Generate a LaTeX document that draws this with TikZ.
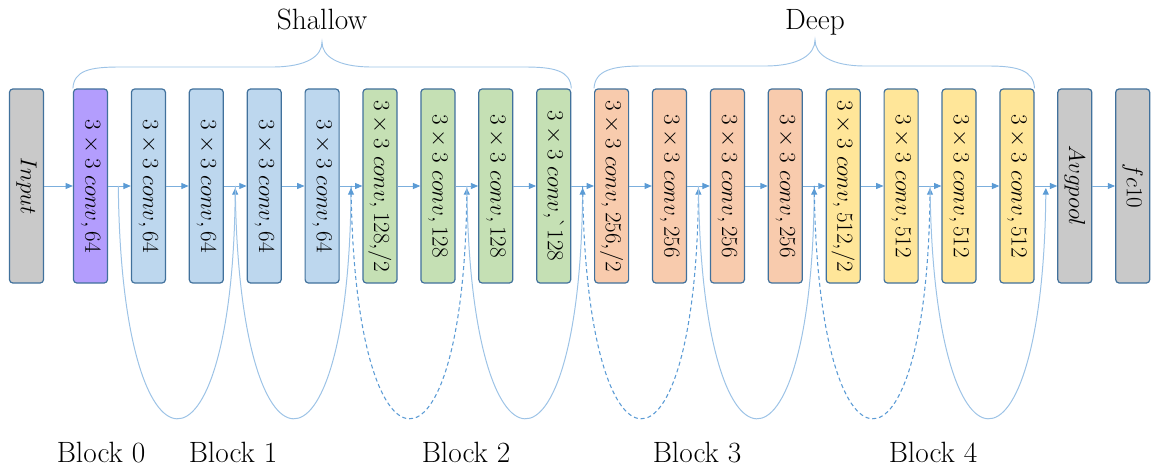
\documentclass[tikz,border=0pt]{standalone}
\usetikzlibrary{calc,arrows.meta}
\definecolor{bord}{HTML}{41719C}
\definecolor{arr}{HTML}{5B9BD5}
\definecolor{lightarr}{HTML}{9DC3E6}
\definecolor{cgray}{HTML}{C9C9C9}
\definecolor{cpurple}{HTML}{B39DFD}
\definecolor{cblue}{HTML}{BDD7EE}
\definecolor{cgreen}{HTML}{C5E0B4}
\definecolor{corange}{HTML}{F8CBAD}
\definecolor{cyellow}{HTML}{FFE699}
\newcommand\rotlbl[1]{\rotatebox[origin=c]{-90}{#1}}
\tikzset{
  layer/.style={draw=bord, line width=0.9pt, rounded corners=2.5pt,
    minimum width=25.5pt, minimum height=145.5pt, inner sep=0pt,
    font=\fontsize{17.3}{20}\selectfont},
  flow/.style={arr!80!white, line width=0.65pt, -{Triangle[length=5.5pt,width=4.5pt,color=arr]}},
  skipsolid/.style={lightarr, line width=0.75pt, -{Triangle[length=5pt,width=4.5pt,color=arr]}},
  skipdash/.style={arr, line width=0.8pt, dash pattern=on 3pt off 2.2pt, -{Triangle[length=5pt,width=4.5pt,color=arr]}},
  bracel/.style={lightarr, line width=0.7pt},
  lbl/.style={font=\fontsize{22}{26}\selectfont, anchor=base, inner sep=0pt}
}
\begin{document}
\begin{tikzpicture}[x=0.75pt, y=-0.75pt]
\useasboundingbox (0,0) rectangle (1151,470);
% layers
\node[layer, fill=cgray]   (in)  at (26.5,186)  {\rotlbl{$Input$}};
\node[layer, fill=cpurple] (c1)  at (90.5,186)  {\rotlbl{$3\times 3\ conv, 64$}};
\node[layer, fill=cblue]   (c2)  at (148.4,186) {\rotlbl{$3\times 3\ conv, 64$}};
\node[layer, fill=cblue]   (c3)  at (206.3,186) {\rotlbl{$3\times 3\ conv, 64$}};
\node[layer, fill=cblue]   (c4)  at (264.2,186) {\rotlbl{$3\times 3\ conv, 64$}};
\node[layer, fill=cblue]   (c5)  at (322.1,186) {\rotlbl{$3\times 3\ conv, 64$}};
\node[layer, fill=cgreen]  (c6)  at (380.0,186) {\rotlbl{$3\times 3\ conv, 128{,}/2$}};
\node[layer, fill=cgreen]  (c7)  at (437.9,186) {\rotlbl{$3\times 3\ conv, 128$}};
\node[layer, fill=cgreen]  (c8)  at (495.8,186) {\rotlbl{$3\times 3\ conv, 128$}};
\node[layer, fill=cgreen]  (c9)  at (553.7,186) {\rotlbl{$3\times 3\ conv{,}\mbox{\textasciigrave}128$}};
\node[layer, fill=corange] (c10) at (611.6,186) {\rotlbl{$3\times 3\ conv, 256{,}/2$}};
\node[layer, fill=corange] (c11) at (669.5,186) {\rotlbl{$3\times 3\ conv, 256$}};
\node[layer, fill=corange] (c12) at (727.4,186) {\rotlbl{$3\times 3\ conv, 256$}};
\node[layer, fill=corange] (c13) at (785.3,186) {\rotlbl{$3\times 3\ conv, 256$}};
\node[layer, fill=cyellow] (c14) at (843.2,186) {\rotlbl{$3\times 3\ conv, 512{,}/2$}};
\node[layer, fill=cyellow] (c15) at (901.1,186) {\rotlbl{$3\times 3\ conv, 512$}};
\node[layer, fill=cyellow] (c16) at (959.0,186) {\rotlbl{$3\times 3\ conv, 512$}};
\node[layer, fill=cyellow] (c17) at (1016.9,186) {\rotlbl{$3\times 3\ conv, 512$}};
\node[layer, fill=cgray]   (avg) at (1074.8,186) {\rotlbl{$Avgpool$}};
\node[layer, fill=cgray]   (fc)  at (1132.7,186) {\rotlbl{$fc10$}};
% main flow
\foreach \a/\b in {in/c1,c1/c2,c2/c3,c3/c4,c4/c5,c5/c6,c6/c7,c7/c8,c8/c9,c9/c10,
  c10/c11,c11/c12,c12/c13,c13/c14,c14/c15,c15/c16,c16/c17,c17/avg,avg/fc}
  \draw[flow] (\a) -- (\b);
% skip junctions
\coordinate (g1) at ($(c1.east)!0.45!(c2.west)$);
\coordinate (g2) at ($(c3.east)!0.5!(c4.west)$);
\coordinate (g3) at ($(c5.east)!0.5!(c6.west)$);
\coordinate (g4) at ($(c7.east)!0.5!(c8.west)$);
\coordinate (g5) at ($(c9.east)!0.5!(c10.west)$);
\coordinate (g6) at ($(c11.east)!0.5!(c12.west)$);
\coordinate (g7) at ($(c13.east)!0.5!(c14.west)$);
\coordinate (g8) at ($(c15.east)!0.5!(c16.west)$);
\coordinate (g9) at ($(c17.east)!0.5!(avg.west)$);
\draw[skipsolid] (g1) .. controls +(3,308) and +(-3,308) .. ($(g2)+(0,2)$);
\draw[skipsolid] (g2) .. controls +(3,308) and +(-3,308) .. ($(g3)+(0,2)$);
\draw[skipdash]  (g3) .. controls +(3,308) and +(-3,308) .. ($(g4)+(0,2)$);
\draw[skipsolid] (g4) .. controls +(3,308) and +(-3,308) .. ($(g5)+(0,2)$);
\draw[skipdash]  (g5) .. controls +(3,308) and +(-3,308) .. ($(g6)+(0,2)$);
\draw[skipsolid] (g6) .. controls +(3,308) and +(-3,308) .. ($(g7)+(0,2)$);
\draw[skipdash]  (g7) .. controls +(3,308) and +(-3,308) .. ($(g8)+(0,2)$);
\draw[skipsolid] (g8) .. controls +(3,308) and +(-3,308) .. ($(g9)+(0,2)$);
% braces
\coordinate (sT) at (322,42);
\coordinate (dT) at (815,40);
\draw[bracel] (c1.north west) .. controls +(1,-18) and +(-30,0) .. (120,67) -- (272,67)
  .. controls +(35,0) and +(0,14) .. (sT)
  .. controls +(0,14) and +(-35,0) .. (372,67) -- (524,67)
  .. controls +(30,0) and +(-1,-18) .. (c9.north east);
\draw[bracel] (c10.north west) .. controls +(1,-18) and +(-30,0) .. (642,66) -- (765,66)
  .. controls +(35,0) and +(0,14) .. (dT)
  .. controls +(0,14) and +(-35,0) .. (865,66) -- (988,66)
  .. controls +(30,0) and +(-1,-18) .. (c17.north east);
% labels
\node[lbl] (shallow) at (322,30) {Shallow};
\node[lbl] (deep) at (815,30) {Deep};
\node[lbl] (b0) at (101,462) {Block 0};
\node[lbl] (b1) at (233,462) {Block 1};
\node[lbl] (b2) at (466,462) {Block 2};
\node[lbl] (b3) at (697,462) {Block 3};
\node[lbl] (b4) at (933,462) {Block 4};
\end{tikzpicture}
\end{document}
